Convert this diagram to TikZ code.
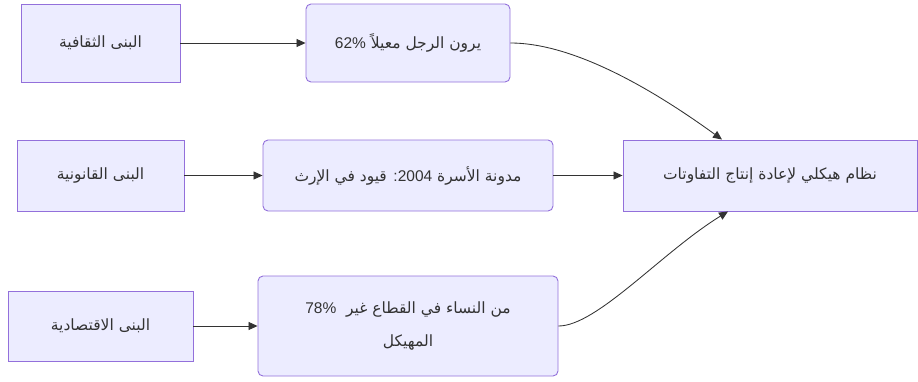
\documentclass[tikz,border=0pt]{standalone}
\usepackage{fontspec}
\usetikzlibrary{arrows.meta}
\TeXXeTstate=1
\newfontfamily\arabicfont[Script=Arabic]{DejaVu Sans}
\newfontfamily\latinfont{Liberation Sans}
\definecolor{boxfill}{HTML}{ECECFF}
\definecolor{boxline}{HTML}{9370DB}
\definecolor{ink}{HTML}{333333}

\begin{document}
\begin{tikzpicture}[x=1pt, y=-1pt,
    plainbox/.style={draw=boxline, fill=boxfill, line width=0.9pt,
      text=ink, align=center, inner sep=0pt,
      font=\arabicfont\fontsize{15.5}{33}\selectfont},
    roundbox/.style={plainbox, rounded corners=5pt},
    link/.style={draw=ink, line width=0.85pt,
      -{Triangle[length=9pt, width=8pt]}}]
  \useasboundingbox (0,0) rectangle (918,381);
  % The three kinds of structures (left column).
  \node[plainbox, minimum width=159pt, minimum height=78pt] (cult) at (100.5,43)
    {\beginR البنى الثقافية\endR};
  \node[plainbox, minimum width=167pt, minimum height=71pt] (law) at (100.5,175.5)
    {\beginR البنى القانونية\endR};
  \node[plainbox, minimum width=185pt, minimum height=70pt] (econ) at (100.5,326)
    {\beginR البنى الاقتصادية\endR};
  % What each of them gives (middle column).
  \node[roundbox, minimum width=204pt, minimum height=78pt] (men) at (408,43)
    {\beginR يرون الرجل معيلاً \beginL{\latinfont 62\%}\endL\endR};
  \node[roundbox, minimum width=290pt, minimum height=71pt] (code) at (408,175.5)
    {\beginR مدونة الأسرة \beginL{\latinfont 2004}\endL{\latinfont:} قيود في الإرث\endR};
  \node[roundbox, minimum width=300pt, minimum height=100pt] (women) at (408,326)
    {\beginR من النساء في القطاع غير\ \ \beginL{\latinfont 78\%}\endL\endR\\
     \beginR المهيكل\endR};
  % The outcome (right column).
  \node[plainbox, minimum width=294pt, minimum height=71pt] (sys) at (770,175.5)
    {\beginR نظام هيكلي لإعادة إنتاج التفاوتات\endR};
  % Straight links.
  \draw[link] (cult) -- (men);
  \draw[link] (law) -- (code);
  \draw[link] (econ) -- (women);
  \draw[link] (code) -- (sys);
  % Curved links into the outcome.
  \draw[link] (men.east) .. controls (578,43) and (662,96) .. (sys.north -| 722,0);
  \draw[link] (women.east) .. controls (597,326) and (662,252) .. (sys.south -| 728,0);
\end{tikzpicture}
\end{document}
